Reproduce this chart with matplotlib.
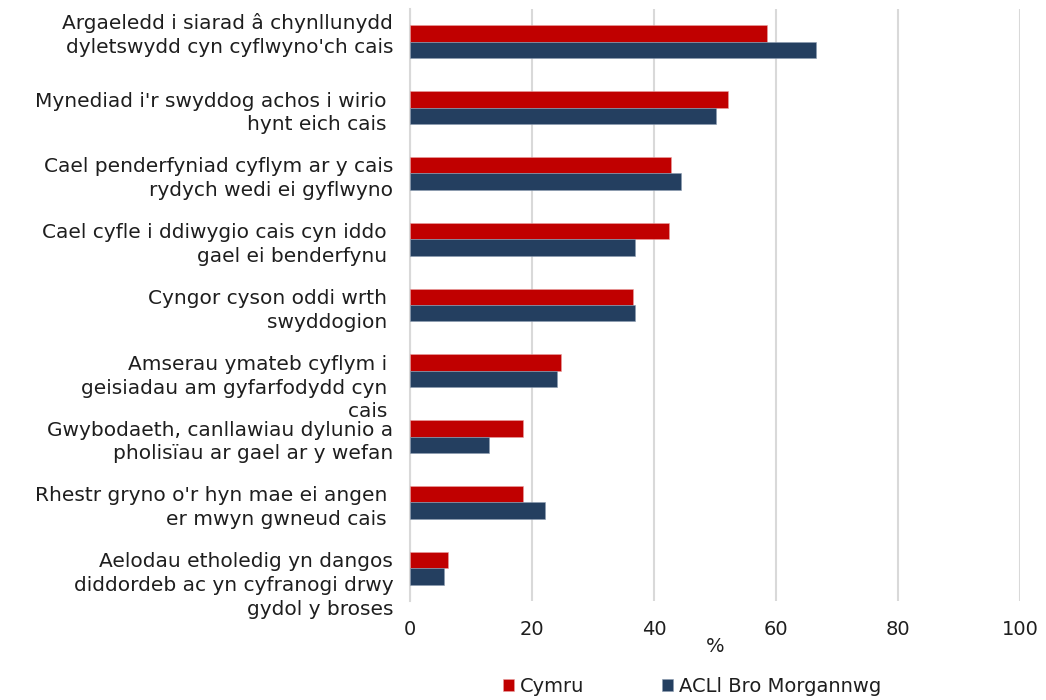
import numpy as np
import matplotlib
matplotlib.use("Agg")
import matplotlib.pyplot as plt
from matplotlib.transforms import ScaledTranslation

# categories (top to bottom)
labels = [
    "Argaeledd i siarad â chynllunydd\ndyletswydd cyn cyflwyno'ch cais",
    "Mynediad i'r swyddog achos i wirio \nhynt eich cais ",
    "Cael penderfyniad cyflym ar y cais\nrydych wedi ei gyflwyno",
    "Cael cyfle i ddiwygio cais cyn iddo \ngael ei benderfynu ",
    "Cyngor cyson oddi wrth \nswyddogion ",
    "Amserau ymateb cyflym i \ngeisiadau am gyfarfodydd cyn \ncais ",
    "Gwybodaeth, canllawiau dylunio a\npholisïau ar gael ar y wefan",
    "Rhestr gryno o'r hyn mae ei angen \ner mwyn gwneud cais ",
    "Aelodau etholedig yn dangos\ndiddordeb ac yn cyfranogi drwy\ngydol y broses",
]
cymru = [58.6, 52.1, 42.8, 42.5, 36.6, 24.7, 18.5, 18.5, 6.3]
acll = [66.6, 50.1, 44.5, 36.9, 36.9, 24.1, 12.9, 22.1, 5.6]
series_names = ["Cymru", "ACLl Bro Morgannwg"]

red = "#C00000"
blue = "#243F60"
txt = "#1e1e1e"

fig = plt.figure(figsize=(10.46, 7.0), dpi=100)
ax = fig.add_axes([410 / 1046, 1 - 601 / 700, 610 / 1046, 592 / 700])

y = np.arange(len(labels))
h = 0.25
ax.barh(y - h / 2, cymru, height=h, color=red, edgecolor="#e8a0a0", linewidth=0.4,
        label=series_names[0], zorder=3)
ax.barh(y + h / 2, acll, height=h, color=blue, edgecolor="#8a9bb0", linewidth=0.4,
        label=series_names[1], zorder=3)

ax.set_ylim(len(labels) - 0.5, -0.5)
ax.set_xlim(0, 100)
ax.set_xticks(np.arange(0, 101, 20))
ax.set_yticks(y)
ax.set_yticklabels(labels, fontsize=14.5, color=txt, linespacing=1.32, va="top")
ax.tick_params(axis="y", length=0, pad=12)
ax.tick_params(axis="x", length=0, pad=14, labelsize=14, labelcolor=txt)

# excel-style wrapped labels: first line sits just above the bar pair
for i, lab in enumerate(ax.get_yticklabels()):
    up = 0.29 if i == 0 else 0.16
    lab.set_transform(lab.get_transform() + ScaledTranslation(0, up, fig.dpi_scale_trans))

ax.grid(axis="x", color="#D9D9D9", linewidth=1.5, zorder=0)
for s in ["top", "right", "bottom"]:
    ax.spines[s].set_visible(False)
ax.spines["left"].set_color("#D9D9D9")
ax.spines["left"].set_linewidth(1.5)

ax.set_xlabel("%", fontsize=14, color=txt, labelpad=-2)

fig.legend(loc="center", bbox_to_anchor=(692 / 1046, 14 / 700), ncol=2,
           frameon=False, fontsize=14, labelcolor=txt,
           handlelength=0.57, handleheight=0.57, handletextpad=0.3,
           columnspacing=4.0)

fig.savefig("out.png", dpi=100)
